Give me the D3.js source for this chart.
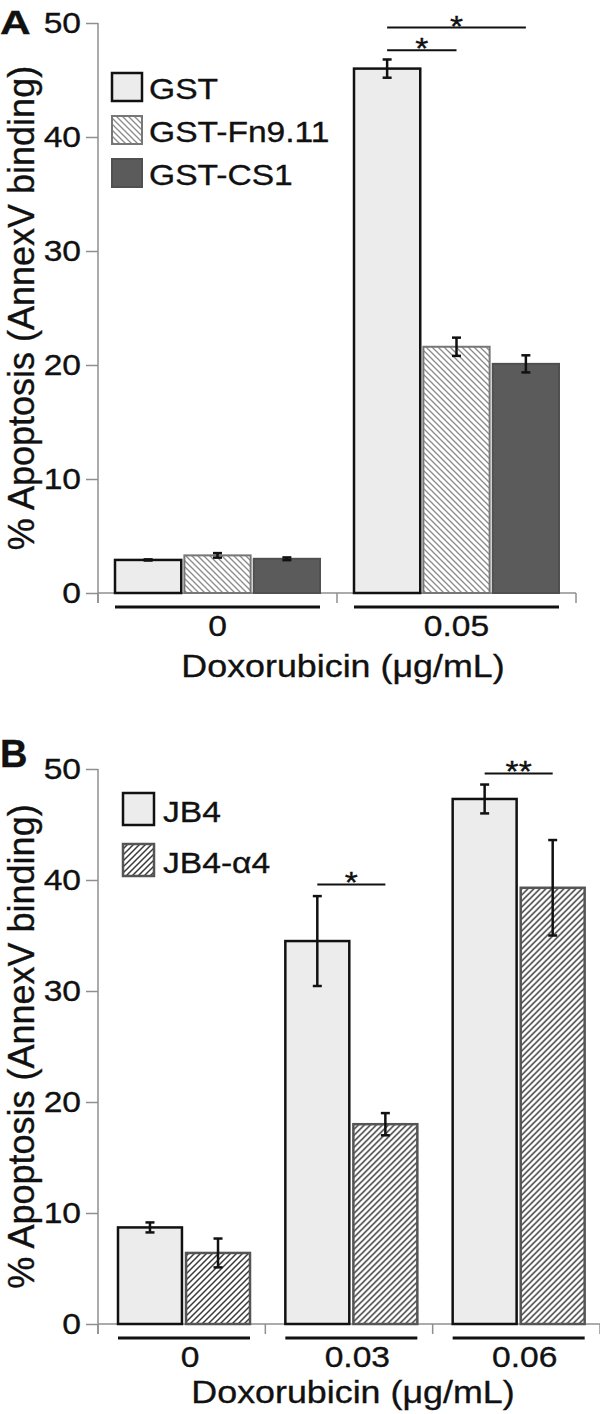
<!DOCTYPE html>
<html>
<head>
<meta charset="utf-8">
<script src="https://cdn.jsdelivr.net/npm/d3@7"></script>
<style>
  body { margin: 0; background: #fff; }
  svg { display: block; font-family: "Liberation Sans", Arial, Helvetica, sans-serif; }
  text { stroke: #111; stroke-width: 0.35px; }
</style>
</head>
<body>
<svg id="chart" width="600" height="1414"></svg>
<script>
// panel A: fibronectin fragments
const doseA = ["0", "0.05"];
const seriesA = ["GST", "GST-Fn9.11", "GST-CS1"];
const meanA = [[2.9, 3.3, 3.0], [46.0, 21.6, 20.1]];
const errA = [[0.05, 0.2, 0.12], [0.8, 0.8, 0.75]];
const sigA = [
  {dose: "0.05", from: 0, to: 1, at: 47.6, label: "*"},
  {dose: "0.05", from: 0, to: 2, at: 49.6, label: "*"}
];

// panel B: alpha4 knockdown
const doseB = ["0", "0.03", "0.06"];
const seriesB = ["JB4", "JB4-\u03b14"];
const meanB = [[8.7, 6.4], [34.5, 18.0], [47.3, 39.3]];
const errB = [[0.45, 1.3], [4.05, 1.0], [1.3, 4.3]];
const sigB = [
  {dose: "0.03", from: 0, to: 1, at: 39.6, label: "*"},
  {dose: "0.06", from: 0, to: 1, at: 49.6, label: "**"}
];

const yTicks = [0, 10, 20, 30, 40, 50];

const SX = 1.12; // glyphs in the figure are a bit wider than Arial
const svg = d3.select("#chart");

const defs = svg.append("defs");
function hatch(id, d, color, w) {
  const p = defs.append("pattern")
    .attr("id", id)
    .attr("patternUnits", "userSpaceOnUse")
    .attr("width", 6)
    .attr("height", 6);
  p.append("rect").attr("width", 6).attr("height", 6).attr("fill", "#fff");
  p.append("path").attr("d", d).attr("stroke", color).attr("stroke-width", w);
}
hatch("hatchA", "M-1,5 l2,2 M0,0 l6,6 M5,-1 l2,2", "#8a8a8a", 1.3);
hatch("hatchB", "M-1,1 l2,-2 M0,6 l6,-6 M5,7 l2,-2", "#3a3a3a", 1.5);

const looks = {
  plain: {fill: "#ececec", stroke: "#111", sw: 2.5},
  hatchA: {fill: "url(#hatchA)", stroke: "#777", sw: 2},
  hatchB: {fill: "url(#hatchB)", stroke: "#555", sw: 2.5},
  dark: {fill: "#5b5b5b", stroke: "#505050", sw: 2}
};

function wideText(g, x, y, str, size, anchor, sx) {
  return g.append("text")
    .attr("transform", "translate(" + x + "," + y + ") scale(" + (sx || SX) + ",1)")
    .attr("text-anchor", anchor || "start")
    .style("font-size", size + "px")
    .attr("fill", "#111")
    .text(str);
}

function drawPanel(cfg) {
  const g = svg.append("g");

  const x0 = d3.scaleBand().domain(cfg.doses).range(cfg.xRange);
  const x1 = d3.scaleBand().domain(d3.range(cfg.series.length))
    .range(cfg.inner).paddingInner(cfg.pad);
  const y = d3.scaleLinear().domain([0, 50]).range(cfg.yRange);
  const base = y(0);

  // y axis
  const yAxis = g.append("g")
    .attr("transform", "translate(" + cfg.xRange[0] + ",0)")
    .call(d3.axisLeft(y).tickValues(yTicks).tickSize(12).tickPadding(5).tickSizeOuter(0));
  yAxis.select(".domain").remove();
  yAxis.selectAll("line").attr("stroke", "#8f8f8f").attr("stroke-width", 1.5);
  yAxis.selectAll("text")
    .attr("x", -17 / SX)
    .attr("transform", "scale(" + SX + ",1)")
    .attr("fill", "#111")
    .style("font-size", "30px")
    .style("font-family", "'Liberation Sans', Arial, sans-serif");
  g.append("line")
    .attr("x1", cfg.xRange[0]).attr("x2", cfg.xRange[0])
    .attr("y1", y(50)).attr("y2", base + 10)
    .attr("stroke", "#8f8f8f").attr("stroke-width", 1.5);

  // x axis line and group dividers
  g.append("line")
    .attr("x1", cfg.xRange[0]).attr("x2", cfg.xRange[1])
    .attr("y1", base).attr("y2", base)
    .attr("stroke", "#8f8f8f").attr("stroke-width", 1.5);
  const edges = cfg.doses.map(d => x0(d)).concat([x0.range()[1]]);
  g.selectAll(".edge").data(edges).enter().append("line")
    .attr("x1", d => d).attr("x2", d => d)
    .attr("y1", base).attr("y2", base + 10)
    .attr("stroke", "#8f8f8f").attr("stroke-width", 1.5);

  // bars
  const groups = g.selectAll(".grp").data(cfg.doses).enter().append("g")
    .attr("transform", d => "translate(" + x0(d) + ",0)");

  groups.each(function (dose, gi) {
    const grp = d3.select(this);
    cfg.series.forEach((s, si) => {
      const v = cfg.mean[gi][si];
      const e = cfg.err[gi][si];
      const look = looks[cfg.looks[si]];
      const bx = x1(si);
      grp.append("rect")
        .attr("x", bx)
        .attr("y", y(v))
        .attr("width", x1.bandwidth())
        .attr("height", base - y(v))
        .attr("fill", look.fill)
        .attr("stroke", look.stroke)
        .attr("stroke-width", look.sw);
      const cx = bx + x1.bandwidth() / 2;
      grp.append("line")
        .attr("x1", cx).attr("x2", cx)
        .attr("y1", y(v + e)).attr("y2", y(v - e))
        .attr("stroke", "#111").attr("stroke-width", 2.5);
      [v + e, v - e].forEach(t => {
        grp.append("line")
          .attr("x1", cx - 4.5).attr("x2", cx + 4.5)
          .attr("y1", y(t)).attr("y2", y(t))
          .attr("stroke", "#111").attr("stroke-width", 2.5);
      });
    });

    // group underline + label
    grp.append("line")
      .attr("x1", x1.range()[0]).attr("x2", x1.range()[1])
      .attr("y1", base + 14).attr("y2", base + 14)
      .attr("stroke", "#111").attr("stroke-width", 3);
    wideText(grp, (x1.range()[0] + x1.range()[1]) / 2 + cfg.labelShift, base + 43, dose, 30, "middle");
  });

  // significance bars
  cfg.sig.forEach(s => {
    const ax = x0(s.dose) + x1(s.from) + x1.bandwidth() / 2;
    const bx = x0(s.dose) + x1(s.to) + x1.bandwidth() / 2;
    g.append("line")
      .attr("x1", ax).attr("x2", bx)
      .attr("y1", y(s.at)).attr("y2", y(s.at))
      .attr("stroke", "#111").attr("stroke-width", 2);
    wideText(g, (ax + bx) / 2, y(s.at) + 8, s.label, 30, "middle");
  });

  // titles
  wideText(g, (cfg.xRange[0] + cfg.xRange[1]) / 2 + cfg.titleShift, base + cfg.titleGap,
    "Doxorubicin (\u03bcg/mL)", 32, "middle");
  g.append("text")
    .attr("transform", "translate(34," + (y(25)) + ") rotate(-90)")
    .attr("text-anchor", "middle")
    .style("font-size", "36px")
    .attr("fill", "#111")
    .text("% Apoptosis (AnnexV binding)");
  wideText(g, 0, cfg.letterY, cfg.letter, cfg.letterSize, "start", cfg.letterSX)
    .style("font-weight", "bold");

  // legend
  const L = cfg.legend;
  cfg.series.forEach((s, si) => {
    const look = looks[cfg.looks[si]];
    const ly = L.y + si * L.step;
    g.append("rect")
      .attr("x", L.x).attr("y", ly)
      .attr("width", L.w).attr("height", L.h)
      .attr("fill", look.fill)
      .attr("stroke", look.stroke)
      .attr("stroke-width", look.sw);
    wideText(g, L.tx, ly + L.ty, s, 30);
  });
}

drawPanel({
  letter: "A", letterY: 34, letterSize: 34, letterSX: 1.25,
  doses: doseA, series: seriesA, mean: meanA, err: errA, sig: sigA,
  looks: ["plain", "hatchA", "dark"],
  xRange: [98, 576], yRange: [593, 23],
  inner: [17, 222], pad: 0.045,
  labelShift: 0, titleShift: 6, titleGap: 84,
  legend: {x: 112, y: 73, step: 43, w: 30, h: 28, tx: 149, ty: 26}
});

drawPanel({
  letter: "B", letterY: 767, letterSize: 38, letterSX: 1.0,
  doses: doseB, series: seriesB, mean: meanB, err: errB, sig: sigB,
  looks: ["plain", "hatchB"],
  xRange: [98, 600], yRange: [1324, 769],
  inner: [20, 152], pad: 0.06,
  labelShift: 6, titleShift: 4, titleGap: 79,
  legend: {x: 123, y: 793, step: 51, w: 31, h: 32, tx: 163, ty: 29}
});
</script>
</body>
</html>
